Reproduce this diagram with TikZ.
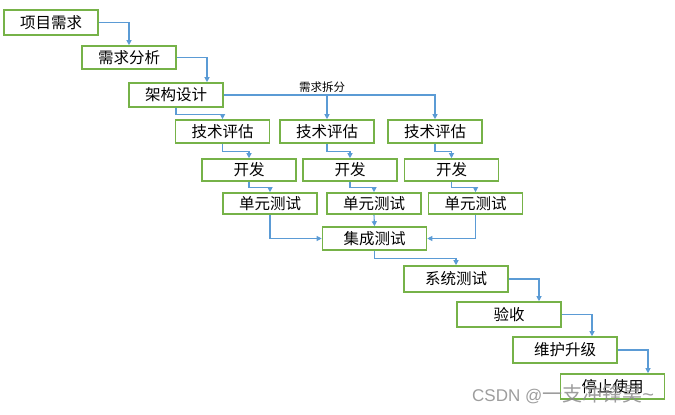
\documentclass[tikz,border=0pt]{standalone}
\usepackage{fontspec}
\setmainfont{Liberation Sans}
\newfontfamily\cjk{Noto Sans CJK SC}
\usetikzlibrary{positioning}
\usetikzlibrary{arrows.meta}
\definecolor{boxgreen}{RGB}{118,178,72}
\definecolor{lineblue}{RGB}{91,155,213}
\definecolor{markgray}{RGB}{140,140,140}
\tikzset{
        stepnode/.style={align=center,inner sep=0pt},
        % Process steps
        node_step/.style={stepnode, rectangle, draw=boxgreen, line width=1.6pt, fill=white, text=black, minimum width=94pt, minimum height=24pt, font=\cjk\fontsize{15.5}{16}\selectfont},
        % Wider steps after the merge
        node_wide/.style={node_step, minimum width=104pt},
        % Small labels on connectors
        node_label/.style={stepnode, font=\cjk\fontsize{11.5}{12}\selectfont},
        % Flow connectors
        line_flow/.style={draw=lineblue, line width=1.1pt, -{Triangle[width=5pt,length=5pt]}}
}

\begin{document}
\begin{tikzpicture}[x=1pt, y=-1pt]
            \useasboundingbox (0,0) rectangle (675,415);
            \node[node_step, minimum height=25pt] (req) at (51,22.5) {项目需求};
            \node[node_step, minimum height=23pt] (analysis) at (129,57.5) {需求分析};
            \node[node_step] (arch) at (176,95) {架构设计};
            \node[node_step, minimum height=23pt] (eval1) at (222.5,131.5) {技术评估};
            \node[node_step, minimum height=23pt] (eval2) at (327,131.5) {技术评估};
            \node[node_step, minimum height=23pt] (eval3) at (435,131.5) {技术评估};
            \node[node_step, minimum height=22pt] (dev1) at (249,170) {开发};
            \node[node_step, minimum height=22pt] (dev2) at (350,170) {开发};
            \node[node_step, minimum height=22pt] (dev3) at (451.5,170) {开发};
            \node[node_step, minimum height=21pt] (unit1) at (270,203.5) {单元测试};
            \node[node_step, minimum height=21pt] (unit2) at (374,203.5) {单元测试};
            \node[node_step, minimum height=21pt] (unit3) at (475.5,203.5) {单元测试};
            \node[node_wide, minimum height=23pt] (integ) at (374.5,238.5) {集成测试};
            \node[node_wide, minimum height=26pt] (systest) at (456,279) {系统测试};
            \node[node_wide, minimum height=25pt] (accept) at (509,314.5) {验收};
            \node[node_wide, minimum height=26pt] (maint) at (565,350) {维护升级};
            \node[node_wide, minimum height=25pt] (stop) at (612.5,386.5) {停止使用};

            \coordinate (split) at (eval2.north |- arch.east);
            \node[node_label, above=2pt of split, xshift=-5pt] (split_label) {需求拆分};

            \draw[line_flow] (req.east) -| (analysis.north);
            \draw[line_flow] (analysis.east) -| ([xshift=31pt]arch.north);
            \draw[line_flow] (arch.south) -- ++(0,7) -| (eval1.north);
            \draw[line_flow] (arch.east) -| (eval3.north);
            \draw[line_flow] (split) -- (eval2.north);
            \foreach \i in {1,2,3} {
                \draw[line_flow] (eval\i.south) -- ++(0,7.5) -| (dev\i.north);
                \draw[line_flow] (dev\i.south) -- ++(0,6) -| (unit\i.north);
            }
            \draw[line_flow] (unit1.south) |- (integ.west);
            \draw[line_flow] (unit2.south) -- (integ.north);
            \draw[line_flow] (unit3.south) |- (integ.east);
            \draw[line_flow] (integ.south) -- ++(0,8) -| (systest.north);
            \draw[line_flow] (systest.east) -| ([xshift=30pt]accept.north);
            \draw[line_flow] (accept.east) -| ([xshift=27pt]maint.north);
            \draw[line_flow] (maint.east) -| ([xshift=35.5pt]stop.north);

            % Watermark
            \node[stepnode, anchor=west, text=markgray, opacity=0.85, font=\fontsize{17}{20}\selectfont] (mark) at (472,394) {CSDN @{\cjk\fontsize{20}{20}\selectfont 一支冲锋昊}\fontsize{20}{20}\selectfont\textasciitilde};
\end{tikzpicture}
\end{document}
